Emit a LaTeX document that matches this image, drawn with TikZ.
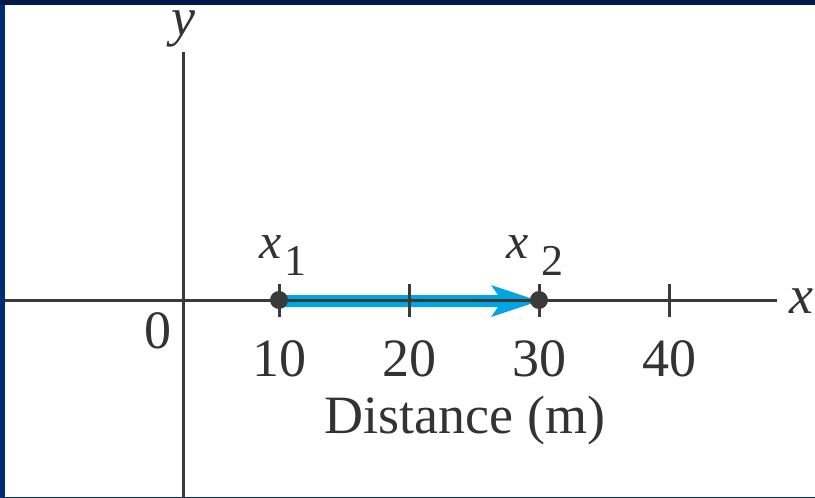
\documentclass[tikz,border=0pt]{standalone}
\usepackage{fontspec}
\setmainfont{Liberation Serif}
\definecolor{navytop}{RGB}{0,26,74}
\definecolor{navyside}{RGB}{0,43,117}
\definecolor{axisgray}{RGB}{58,58,58}
\definecolor{textgray}{RGB}{51,51,51}
\definecolor{arrowblue}{RGB}{0,166,227}
\tikzset{
  axisline/.style={draw=axisgray, line width=3pt},
  tickline/.style={draw=axisgray, line width=3pt},
  lbl/.style={inner sep=0pt, anchor=base, text=textgray, font=\fontsize{54}{60}\selectfont},
  sublbl/.style={inner sep=0pt, anchor=base, text=textgray, font=\fontsize{44}{50}\selectfont},
  varlbl/.style={inner sep=0pt, anchor=base, text=textgray, font=\fontsize{50}{56}\selectfont\itshape},
  dotmark/.style={circle, fill=axisgray, inner sep=0pt, minimum size=18pt},
}
\begin{document}
\begin{tikzpicture}[x=1pt, y=-1pt]
\useasboundingbox (0,0) rectangle (815,498);
\fill[white] (0,0) rectangle (815,498);
% frame
\fill[navyside] (0,0) rectangle (5,498);
\fill[navyside] (0,496.5) rectangle (815,498);
\fill[navytop] (0,0) rectangle (815,5);
% axis coordinates
\coordinate (xs) at (5,300);
\coordinate (xe) at (777,300);
\coordinate (ys) at (183,52);
\coordinate (ye) at (183,498);
% blue displacement arrow
\fill[arrowblue] (279,295) -- (498,295) -- (491,285) -- (539,301) -- (491,317) -- (498,307) -- (279,307) -- cycle;
% axes
\draw[axisline] (xs) -- (xe);
\draw[axisline] (ys) -- (ye);
% ticks
\foreach \t in {279,409,539,669}{
  \coordinate (ta\t) at (\t,284);
  \coordinate (tb\t) at (\t,317);
  \draw[tickline] (ta\t) -- (tb\t);
}
% dots
\node[dotmark] (d1) at (279,300) {};
\node[dotmark] (d2) at (539,300) {};
% tick labels
\node[lbl] (l0) at (158,348) {0};
\node[lbl] (l10) at (279,376) {10};
\node[lbl] (l20) at (409,376) {20};
\node[lbl] (l30) at (539,376) {30};
\node[lbl] (l40) at (669,376) {40};
\node[lbl] (dist) at (465,433) {Distance (m)};
% axis names
\node[lbl, font=\fontsize{54}{60}\selectfont\itshape] (xname) at (801,313) {x};
\node[lbl, font=\fontsize{54}{60}\selectfont\itshape] (yname) at (183,35) {y};
% point labels
\node[varlbl] (x1v) at (271,258) {x};
\node[sublbl] (x1s) at (295,275) {1};
\node[varlbl] (x2v) at (518,258) {x};
\node[sublbl] (x2s) at (552,275) {2};
\end{tikzpicture}
\end{document}
